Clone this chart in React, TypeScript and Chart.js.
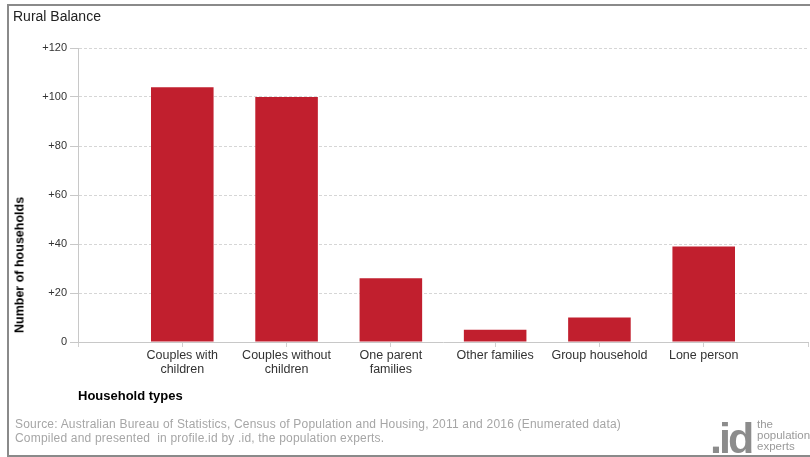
import React, { useEffect, useRef } from 'react';
import { Chart, registerables } from 'chart.js';

Chart.register(...registerables);

const chartTitle = 'Rural Balance';
const categories: string[][] = [
  ['Couples with', 'children'],
  ['Couples without', 'children'],
  ['One parent', 'families'],
  ['Other families'],
  ['Group household'],
  ['Lone person'],
];
const values: number[] = [104, 100, 26, 5, 10, 39];
const yMin = 0;
const yMax = 120;
const yStep = 20;
const yTitle = 'Number of households';
const xTitle = 'Household types';
const sourceLines: string[] = [
  'Source: Australian Bureau of Statistics, Census of Population and Housing, 2011 and 2016 (Enumerated data)',
  'Compiled and presented  in profile.id by .id, the population experts.',
];
const logoMark = '.id';
const logoWords: string[] = ['the', 'population', 'experts'];

const FONT = "'Liberation Sans', Arial, sans-serif";

export default function App() {
  const canvasRef = useRef<HTMLCanvasElement | null>(null);

  useEffect(() => {
    const canvas = canvasRef.current;
    if (!canvas) return;
    Chart.defaults.font.family = FONT;
    const labels = [[''], ...categories, ['']];
    const data = [null, ...values, null];
    const chart = new Chart(canvas, {
      type: 'bar',
      data: {
        labels,
        datasets: [
          {
            data,
            backgroundColor: '#C11F2E',
            borderWidth: 0,
            barPercentage: 1,
            categoryPercentage: 0.6,
          },
        ],
      },
      options: {
        responsive: false,
        animation: false,
        layout: { padding: { left: 15, top: 48, right: 2, bottom: 50 } },
        plugins: { legend: { display: false }, tooltip: { enabled: false } },
        scales: {
          x: {
            offset: false,
            grid: {
              offset: false,
              drawOnChartArea: false,
              drawTicks: true,
              tickLength: 5,
              tickColor: '#d0d0d0',
            },
            border: { color: '#c8c8c8', width: 1 },
            ticks: {
              color: '#333',
              font: { size: 12.5, lineHeight: 1.15 },
              padding: 1,
              maxRotation: 0,
              autoSkip: false,
            },
            title: {
              display: true,
              text: xTitle,
              align: 'start',
              color: '#000',
              font: { size: 13, weight: 'bold' },
              padding: { top: 0, bottom: 3 },
            },
            afterFit: (s: any) => {
              s.height = 65;
            },
          },
          y: {
            min: yMin,
            max: yMax,
            ticks: {
              stepSize: yStep,
              color: '#333',
              font: { size: 11 },
              padding: 3,
              callback: (v: any) => (Number(v) > 0 ? '+' + v : String(v)),
            },
            grid: {
              color: '#d6d6d6',
              tickColor: '#c8c8c8',
              tickLength: 8,
              tickBorderDash: [],
            },
            border: { color: '#c8c8c8', width: 1, dash: [3, 2] },
            afterFit: (s: any) => {
              s.width = 63;
            },
          },
        },
      },
    } as any);
    return () => chart.destroy();
  }, []);

  return (
    <div
      style={{
        position: 'fixed',
        left: 0,
        top: 0,
        width: 810,
        height: 457,
        background: '#fff',
        overflow: 'hidden',
        fontFamily: FONT,
      }}
    >
      <div
        style={{
          position: 'absolute',
          left: 7,
          top: 4,
          width: 820,
          height: 449,
          border: '2px solid #8a8a8a',
        }}
      />
      <canvas
        ref={canvasRef}
        width={810}
        height={457}
        style={{ position: 'absolute', left: 0, top: 0, width: 810, height: 457 }}
      />
      <div
        style={{
          position: 'absolute',
          left: 13,
          top: 8,
          fontSize: 14,
          lineHeight: '16px',
          color: '#222',
          whiteSpace: 'nowrap',
        }}
      >
        {chartTitle}
      </div>
      <div
        style={{
          position: 'absolute',
          left: 20,
          top: 265,
          width: 0,
          height: 0,
        }}
      >
        <div
          style={{
            position: 'absolute',
            left: 0,
            top: 0,
            transform: 'translate(-50%, -50%) rotate(-90deg)',
            fontSize: 12.5,
            fontWeight: 'bold',
            lineHeight: '15px',
            color: '#000',
            whiteSpace: 'nowrap',
          }}
        >
          {yTitle}
        </div>
      </div>
      <div
        style={{
          position: 'absolute',
          left: 15,
          top: 417,
          fontSize: 12,
          lineHeight: '14px',
          letterSpacing: 0.2,
          color: '#a6a6a6',
          whiteSpace: 'pre',
        }}
      >
        {sourceLines.map((l, i) => (
          <div key={i}>{l}</div>
        ))}
      </div>
      <div
        style={{
          position: 'absolute',
          left: 710,
          top: 413,
          fontSize: 43,
          fontWeight: 'bold',
          lineHeight: '50px',
          letterSpacing: -3,
          color: '#8c8c8c',
        }}
      >
        {logoMark}
      </div>
      <div
        style={{
          position: 'absolute',
          left: 757,
          top: 419,
          fontSize: 11.5,
          lineHeight: '11px',
          color: '#9a9a9a',
          whiteSpace: 'nowrap',
        }}
      >
        {logoWords.map((w, i) => (
          <div key={i}>{w}</div>
        ))}
      </div>
    </div>
  );
}
